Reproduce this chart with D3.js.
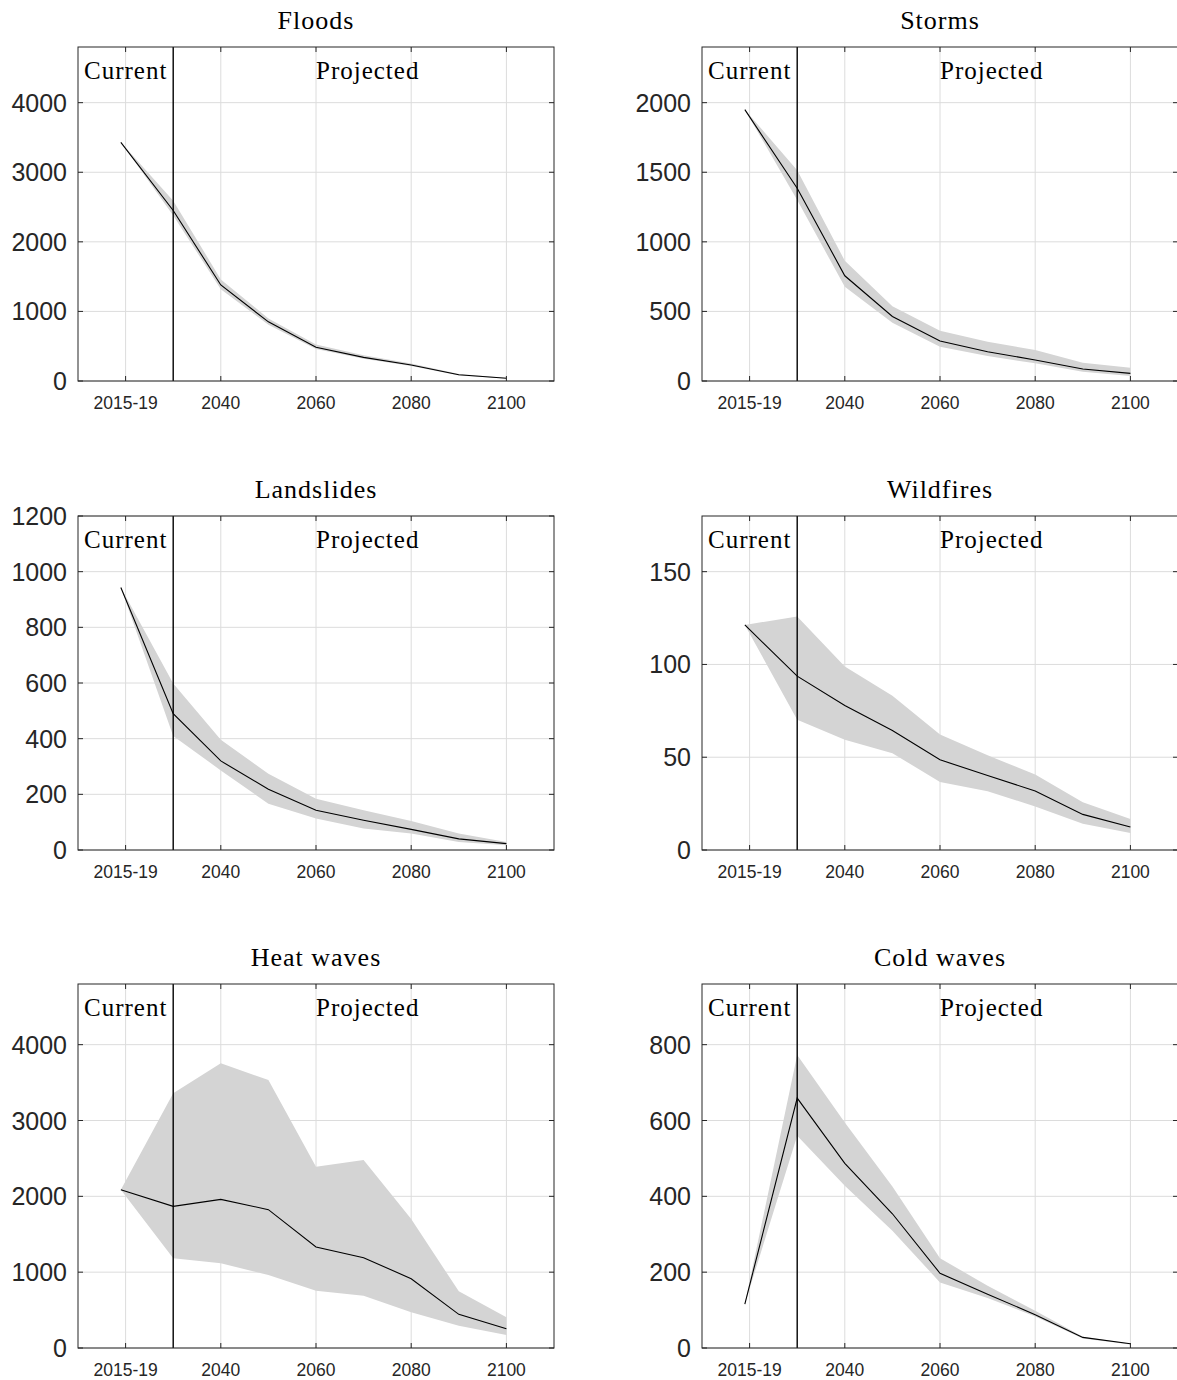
<!DOCTYPE html>
<html>
<head>
<meta charset="utf-8">
<script src="https://cdn.jsdelivr.net/npm/d3@7"></script>
<style>
  body { margin: 0; background: #fff; }
  svg { display: block; }
  .serif { font-family: "Liberation Serif", "Times New Roman", serif; fill: #000; }
  .tick-label { font-family: "Liberation Sans", Arial, sans-serif; fill: #262626; }
</style>
</head>
<body>
<div id="main-chart"></div>
<script>
// years of each data point (first point = 2015-19 average)
var years = [2019, 2030, 2040, 2050, 2060, 2070, 2080, 2090, 2100];
var xTickValues = [2020, 2040, 2060, 2080, 2100];
var xTickLabels = ["2015-19", "2040", "2060", "2080", "2100"];

var floodsMid  = [3430, 2450, 1380, 850, 485, 340, 230, 90, 40];
var floodsLow  = [3430, 2380, 1320, 810, 460, 320, 215, 80, 35];
var floodsHigh = [3430, 2590, 1460, 900, 525, 370, 250, 100, 45];

var stormsMid  = [1950, 1385, 756, 464, 287, 210, 151, 86, 55];
var stormsLow  = [1950, 1300, 677, 419, 246, 179, 127, 67, 36];
var stormsHigh = [1950, 1514, 864, 538, 361, 282, 222, 132, 96];

var landslidesMid  = [943, 490, 320, 218, 143, 107, 74, 40, 23];
var landslidesLow  = [943, 410, 286, 166, 113, 77, 59, 29, 17];
var landslidesHigh = [943, 598, 396, 274, 184, 143, 104, 59, 29];

var wildfiresMid  = [121.3, 93.7, 77.9, 64.4, 48.6, 40.2, 31.8, 19.2, 12.4];
var wildfiresLow  = [121.3, 70.2, 59.4, 52.2, 36.6, 31.6, 23.5, 14.2, 9.2];
var wildfiresHigh = [121.3, 125.8, 98.9, 83.1, 62.3, 51.0, 40.7, 25.8, 16.7];

var heatMid  = [2088, 1868, 1960, 1824, 1332, 1191, 914, 444, 255];
var heatLow  = [2088, 1182, 1116, 963, 756, 690, 470, 295, 171];
var heatHigh = [2088, 3360, 3754, 3534, 2391, 2479, 1701, 747, 404];

var coldMid  = [116, 659, 487, 354, 197, 142, 88, 28, 11];
var coldLow  = [116, 560, 428, 309, 173, 132, 83, 25, 9];
var coldHigh = [116, 773, 595, 426, 237, 164, 98, 30, 11];

var panelTitles = ["Floods", "Storms", "Landslides", "Wildfires", "Heat waves", "Cold waves"];
var yMaxes = [4800, 2400, 1200, 180, 4800, 960];
var yTicks = [
  [0, 1000, 2000, 3000, 4000],
  [0, 500, 1000, 1500, 2000],
  [0, 200, 400, 600, 800, 1000, 1200],
  [0, 50, 100, 150],
  [0, 1000, 2000, 3000, 4000],
  [0, 200, 400, 600, 800]
];
var series = [
  [floodsMid, floodsLow, floodsHigh],
  [stormsMid, stormsLow, stormsHigh],
  [landslidesMid, landslidesLow, landslidesHigh],
  [wildfiresMid, wildfiresLow, wildfiresHigh],
  [heatMid, heatLow, heatHigh],
  [coldMid, coldLow, coldHigh]
];

var width = 1177, height = 1380;
var colLeft = [78, 702];
var colWidth = 476;
var rows = [[47, 381], [516, 850], [984, 1348]];
var tickLen = 5;

var svg = d3.select("#main-chart")
  .append("svg")
  .attr("width", width)
  .attr("height", height);

function drawPanel(i) {
  var left = colLeft[i % 2];
  var top = rows[Math.floor(i / 2)][0];
  var bottom = rows[Math.floor(i / 2)][1];
  var right = left + colWidth;

  var x = d3.scaleLinear().domain([2010, 2110]).range([left, right]);
  var y = d3.scaleLinear().domain([0, yMaxes[i]]).range([bottom, top]);

  var g = svg.append("g").attr("class", "panel");
  var mid = series[i][0], low = series[i][1], high = series[i][2];

  // grid
  g.append("g").selectAll("line.gx")
    .data(xTickValues)
    .enter().append("line")
    .attr("x1", d => x(d)).attr("x2", d => x(d))
    .attr("y1", top).attr("y2", bottom)
    .attr("stroke", "#dcdcdc").attr("stroke-width", 1);
  g.append("g").selectAll("line.gy")
    .data(yTicks[i])
    .enter().append("line")
    .attr("x1", left).attr("x2", right)
    .attr("y1", d => y(d)).attr("y2", d => y(d))
    .attr("stroke", "#dcdcdc").attr("stroke-width", 1);

  // uncertainty band
  var area = d3.area()
    .x((d, j) => x(years[j]))
    .y0((d, j) => y(low[j]))
    .y1((d, j) => y(high[j]));
  g.append("path")
    .datum(mid)
    .attr("d", area)
    .attr("fill", "#d4d4d4");

  // central estimate
  var line = d3.line()
    .x((d, j) => x(years[j]))
    .y(d => y(d));
  g.append("path")
    .datum(mid)
    .attr("d", line)
    .attr("fill", "none")
    .attr("stroke", "#000")
    .attr("stroke-width", 1.1);

  // current / projected divider
  g.append("line")
    .attr("x1", x(2030)).attr("x2", x(2030))
    .attr("y1", top).attr("y2", bottom)
    .attr("stroke", "#000").attr("stroke-width", 1.4);

  // box
  g.append("rect")
    .attr("x", left).attr("y", top)
    .attr("width", colWidth).attr("height", bottom - top)
    .attr("fill", "none").attr("stroke", "#262626").attr("stroke-width", 1);

  // inward ticks on all sides
  var tk = g.append("g").attr("stroke", "#262626").attr("stroke-width", 1);
  xTickValues.forEach(function(d) {
    tk.append("line").attr("x1", x(d)).attr("x2", x(d)).attr("y1", bottom).attr("y2", bottom - tickLen);
    tk.append("line").attr("x1", x(d)).attr("x2", x(d)).attr("y1", top).attr("y2", top + tickLen);
  });
  yTicks[i].forEach(function(d) {
    tk.append("line").attr("x1", left).attr("x2", left + tickLen).attr("y1", y(d)).attr("y2", y(d));
    tk.append("line").attr("x1", right).attr("x2", right - tickLen).attr("y1", y(d)).attr("y2", y(d));
  });

  // tick labels
  g.append("g").selectAll("text")
    .data(xTickValues)
    .enter().append("text")
    .attr("class", "tick-label")
    .attr("x", d => x(d))
    .attr("y", bottom + 28)
    .attr("text-anchor", "middle")
    .style("font-size", "17.5px")
    .text((d, j) => xTickLabels[j]);
  g.append("g").selectAll("text")
    .data(yTicks[i])
    .enter().append("text")
    .attr("class", "tick-label")
    .attr("x", left - 11)
    .attr("y", d => y(d) + 9)
    .attr("text-anchor", "end")
    .style("font-size", "25px")
    .text(d => d);

  // texts
  g.append("text")
    .attr("class", "serif")
    .attr("x", (left + right) / 2)
    .attr("y", top - 18)
    .attr("text-anchor", "middle")
    .style("font-size", "26px")
    .style("letter-spacing", "1px")
    .text(panelTitles[i]);
  g.append("text")
    .attr("class", "serif")
    .attr("x", left + 6)
    .attr("y", top + 32)
    .style("font-size", "25px")
    .style("letter-spacing", "1px")
    .text("Current");
  g.append("text")
    .attr("class", "serif")
    .attr("x", x(2060))
    .attr("y", top + 32)
    .style("font-size", "25px")
    .style("letter-spacing", "1px")
    .text("Projected");
}

for (var i = 0; i < panelTitles.length; i++) {
  drawPanel(i);
}
</script>
</body>
</html>
